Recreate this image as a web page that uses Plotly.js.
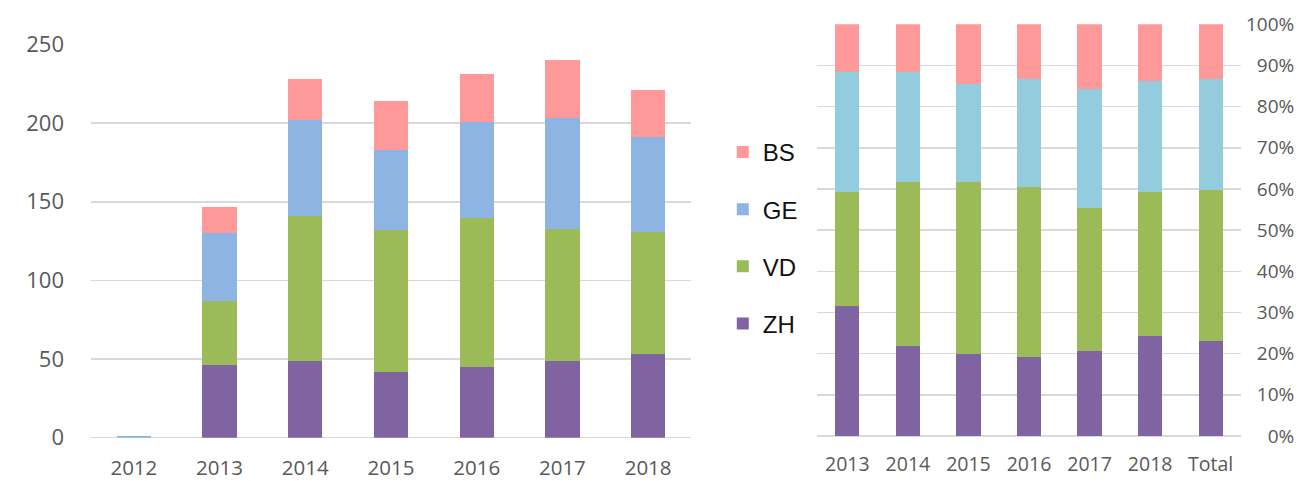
<!DOCTYPE html>
<html>
<head>
<meta charset="utf-8">
<script src="https://cdn.plot.ly/plotly-3.0.1.min.js"></script>
<style>html,body{margin:0;padding:0;background:#fff;}#chart{width:1300px;height:481px;}</style>
</head>
<body>
<div id="chart"></div>
<script>
// Left chart: absolute counts per year
const years = ['2012', '2013', '2014', '2015', '2016', '2017', '2018'];
const zh = [0, 46, 49, 42, 45, 49, 53];
const vd = [0, 41, 92, 90, 95, 84, 78];
const ge = [1, 43, 61, 51, 61, 70, 60];
const bs = [0, 17, 26, 31, 30, 37, 30];

// Right chart: shares per year (percent)
const pctCats = ['2013', '2014', '2015', '2016', '2017', '2018', 'Total'];
const zhPct = [31.6, 21.8, 19.9, 19.3, 20.6, 24.2, 23.0];
const vdPct = [27.6, 39.9, 41.8, 41.3, 34.8, 35.1, 36.8];
const gePct = [29.3, 26.8, 23.8, 26.2, 29.0, 27.0, 26.8];
const bsPct = [11.5, 11.5, 14.5, 13.2, 15.6, 13.7, 13.4];

const yTicksLeft = [0, 50, 100, 150, 200, 250];
const yTicksRight = [0, 10, 20, 30, 40, 50, 60, 70, 80, 90, 100];
// labels padded with figure spaces so they line up on the right
const yTextRight = yTicksRight.map(v => '\u2007'.repeat(3 - String(v).length) + v + '%');

const cZH = '#8064A2', cVD = '#9BBB59', cGE = '#8DB4E2', cGE2 = '#93CDDD', cBS = '#FF9999';

function bar(name, x, y, color, xa, ya, show, rank) {
  return {type: 'bar', name: name, x: x, y: y, xaxis: xa, yaxis: ya,
    marker: {color: color, line: {width: 0}}, showlegend: show,
    legendgroup: name, legendrank: rank, hoverinfo: 'skip'};
}

const data = [
  bar('ZH', years, zh, cZH, 'x', 'y', true, 4),
  bar('VD', years, vd, cVD, 'x', 'y', true, 3),
  bar('GE', years, ge, cGE, 'x', 'y', true, 2),
  bar('BS', years, bs, cBS, 'x', 'y', true, 1),
  bar('ZH', pctCats, zhPct, cZH, 'x2', 'y2', false, 4),
  bar('VD', pctCats, vdPct, cVD, 'x2', 'y2', false, 3),
  bar('GE', pctCats, gePct, cGE2, 'x2', 'y2', false, 2),
  bar('BS', pctCats, bsPct, cBS, 'x2', 'y2', false, 1)
];

const tickFont = {family: 'Open Sans, sans-serif', color: '#595959'};
const layout = {
  width: 1300, height: 481,
  margin: {l: 0, r: 0, t: 0, b: 0},
  paper_bgcolor: '#ffffff', plot_bgcolor: '#ffffff',
  barmode: 'stack', bargap: 0.6,
  showlegend: true,
  legend: {x: 0.556, y: 0.73, xanchor: 'left', yanchor: 'top',
    traceorder: 'grouped', tracegroupgap: 23,
    font: {family: 'Liberation Sans, Arial, sans-serif', size: 24, color: '#111111'},
    bgcolor: 'rgba(0,0,0,0)'},
  xaxis: {domain: [0.07, 0.5315], type: 'category', showgrid: false, showline: false,
    ticks: '', tickfont: Object.assign({size: 20.5}, tickFont), ticklabelstandoff: 16},
  yaxis: {domain: [0.0900, 0.9075], range: [0, 250], tickvals: yTicksLeft,
    showgrid: true, gridcolor: '#D9D9D9', gridwidth: 1.5, zeroline: true,
    zerolinecolor: '#D9D9D9', zerolinewidth: 1.5, showline: false, ticks: '',
    tickfont: Object.assign({size: 22}, tickFont), ticklabelstandoff: 26},
  xaxis2: {domain: [0.6285, 0.9546], anchor: 'y2', type: 'category', showgrid: false,
    showline: false, ticks: '', tickfont: Object.assign({size: 19.5}, tickFont),
    ticklabelstandoff: 15},
  yaxis2: {domain: [0.0936, 0.9495], range: [0, 100], tickvals: yTicksRight,
    ticktext: yTextRight, anchor: 'x2', side: 'right',
    showgrid: true, gridcolor: '#D9D9D9', gridwidth: 1.5,
    zeroline: true, zerolinecolor: '#D9D9D9', zerolinewidth: 1.5, showline: false,
    ticks: '', tickfont: Object.assign({size: 19}, tickFont), ticklabelstandoff: 4}
};

Plotly.newPlot('chart', data, layout, {displayModeBar: false, staticPlot: true});
</script>
</body>
</html>
